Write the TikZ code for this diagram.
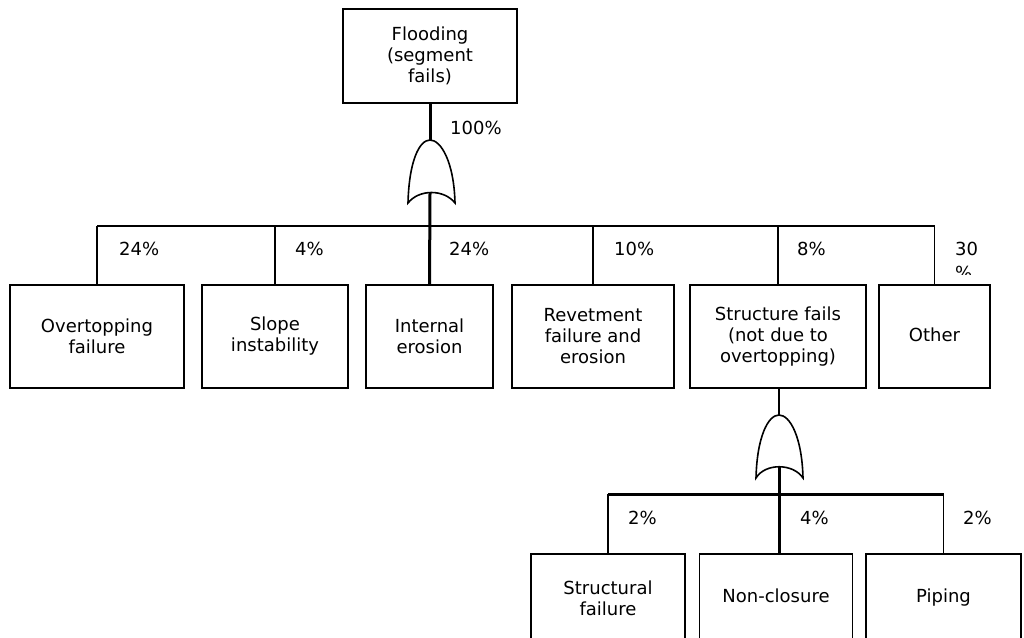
\documentclass[tikz,border=0pt]{standalone}
\usepackage{fontspec}
\setmainfont{DejaVu Sans}
\begin{document}
\begin{tikzpicture}[x=1pt,y=-1pt,
  box/.style={draw,line width=1.5pt,rectangle,inner sep=0pt,align=center,
    font=\fontsize{18}{21}\selectfont},
  pct/.style={inner sep=0pt,anchor=base west,font=\fontsize{18}{21}\selectfont},
  thin/.style={line width=1.5pt},
  thick/.style={line width=3pt},
  gate/.style={line width=1.6pt,fill=white}]
\useasboundingbox (0,0) rectangle (1024,637);
% top event
\node[box,minimum width=174pt,minimum height=94pt] (top) at (430,56) {Flooding\\(segment\\fails)};
% first level boxes
\node[box,minimum width=174pt,minimum height=103pt] (b1) at (97,336.5) {Overtopping\\failure};
\node[box,minimum width=146pt,minimum height=103pt] (b2) at (275,336.5) {Slope\\instability};
\node[box,minimum width=127pt,minimum height=103pt] (b3) at (429.5,336.5) {Internal\\erosion};
\node[box,minimum width=162pt,minimum height=103pt] (b4) at (593,336.5) {Revetment\\failure and\\erosion};
\node[box,minimum width=176pt,minimum height=103pt] (b5) at (778,336.5) {Structure fails\\(not due to\\overtopping)};
\node[box,minimum width=111pt,minimum height=103pt,text height=13pt,text depth=4pt] (b6) at (934.5,336.5) {Other};
% second level boxes
\node[box,minimum width=154pt,minimum height=88pt] (c1) at (608,598) {Structural\\failure};
\node[box,minimum width=153pt,minimum height=88pt,text height=13pt,text depth=4pt] (c2) at (776,598) {Non-closure};
\node[box,minimum width=155pt,minimum height=88pt,text height=13pt,text depth=4pt] (c3) at (943.5,598) {Piping};
% gate 1
\coordinate (g1top) at (430,140);
\coordinate (g1L) at (408,203);
\coordinate (g1R) at (455,203);
\coordinate (g1in) at (430,193);
\coordinate (bar1) at (430,226);
\draw[thick] (top.south) -- (g1top);
\draw[thick] (g1in) -- (b3.north);
\draw[thin] (b1.north |- bar1) -- (b6.north |- bar1);
\foreach \n in {b1,b2,b4,b5,b6} \draw[thin] (\n.north |- bar1) -- (\n.north);
\draw[gate] (g1L) .. controls (409,162) and (419,140) .. (g1top)
  .. controls (441,140) and (454,162) .. (g1R)
  .. controls (444,189) and (419,189) .. (g1L) -- cycle;
% gate 2
\coordinate (g2top) at (779,415);
\coordinate (g2L) at (756,478);
\coordinate (g2R) at (803,478);
\coordinate (g2in) at (779,467);
\coordinate (bar2) at (779,494);
\draw[line width=2pt] (b5.south -| g2top) -- (g2top);
\draw[thick] (g2in) -- (g2in |- c2.north);
\draw[thick] (c1.north |- bar2) -- (c3.north |- bar2);
\draw[thin] (c1.north |- bar2) -- (c1.north);
\draw[thin] (c3.north |- bar2) -- (c3.north);
\draw[gate] (g2L) .. controls (757,437) and (768,415) .. (g2top)
  .. controls (790,415) and (802,437) .. (g2R)
  .. controls (793,463) and (765,463) .. (g2L) -- cycle;
% percentages
\node[pct] (p0) at (450,134) {100\%};
\node[pct] (p1) at (119,255) {24\%};
\node[pct] (p2) at (295,255) {4\%};
\node[pct] (p3) at (449,255) {24\%};
\node[pct] (p4) at (614,255) {10\%};
\node[pct] (p5) at (797,255) {8\%};
\node[pct] (p6) at (955,255) {30};
\begin{scope}
\clip (940,258) rectangle (1010,274);
\node[pct] (p6b) at (955,279) {\%};
\end{scope}
\node[pct] (q1) at (628,524) {2\%};
\node[pct] (q2) at (800,524) {4\%};
\node[pct] (q3) at (963,524) {2\%};
\end{tikzpicture}
\end{document}
